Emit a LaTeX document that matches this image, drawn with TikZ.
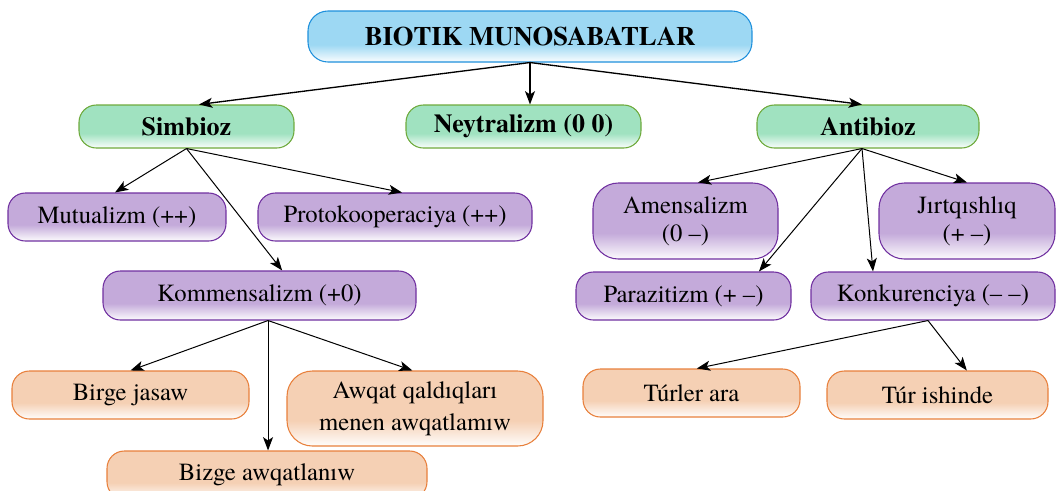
\documentclass[tikz,border=0pt]{standalone}
\usepackage{fontspec}
\setmainfont{TeX Gyre Termes}
\usetikzlibrary{arrows.meta}
\tikzset{>={Stealth[length=10pt,width=7.5pt,inset=2.5pt]}}

\definecolor{topfill}{HTML}{9DD8F3}
\definecolor{topline}{HTML}{1E90DC}
\definecolor{grfill}{HTML}{A0E2C0}
\definecolor{grline}{HTML}{6EAA3C}
\definecolor{pufill}{HTML}{C4AADA}
\definecolor{puline}{HTML}{7030A0}
\definecolor{orfill}{HTML}{F5D0B4}
\definecolor{orline}{HTML}{E8803C}
\colorlet{boxc}{white}
\colorlet{boxl}{white}
\pgfdeclareverticalshading[boxc,boxl]{fadedown}{100bp}{color(0bp)=(boxl); color(25bp)=(boxl); color(42bp)=(boxc); color(100bp)=(boxc)}

\begin{document}
\begin{tikzpicture}[
    x = 0.75pt, y = -0.75pt,
    ebox/.style 2 args = {draw=#2, line width=0.8pt, rounded corners=13pt,
        /utils/exec={\colorlet{boxc}{#1}\colorlet{boxl}{#1!4!white}},
        shading=fadedown, align=center, inner sep=0pt, text=black},
    topbox/.style = {ebox={topfill}{topline}, rounded corners=15pt,
        minimum width=333pt, minimum height=38.25pt,
        font=\fontsize{20}{24}\selectfont\bfseries},
    grbox/.style = {ebox={grfill}{grline}, minimum height=32.25pt,
        font=\fontsize{19.5}{23}\selectfont\bfseries},
    pubox/.style = {ebox={pufill}{puline}, minimum height=36pt,
        font=\fontsize{18.5}{21}\selectfont},
    orbox/.style = {ebox={orfill}{orline}, minimum height=36pt,
        font=\fontsize{18.5}{21}\selectfont},
    link/.style = {->, line width=0.75pt}
  ]
  \useasboundingbox (0,0) rectangle (1056,490);

  % levels
  \node[topbox] (biotik) at (530,36.5) {BIOTIK MUNOSABATLAR};

  \node[grbox, minimum width=161.25pt] (simbioz) at (186.5,126.5) {Simbioz};
  \node[grbox, minimum width=176.25pt] (neytral) at (523.5,126.5) {Neytralizm (0 0)};
  \node[grbox, minimum width=166.5pt] (antibioz) at (868,126.5) {Antibioz};

  \node[pubox, minimum width=163.5pt] (mutual) at (117,217) {Mutualizm (++)};
  \node[pubox, minimum width=205.5pt] (protok) at (395,217) {Protokooperaciya (++)};
  \node[pubox, minimum width=234.75pt, minimum height=36.75pt] (kommens) at (259.5,295.5) {Kommensalizm (+0)};

  \node[pubox, minimum width=138.75pt, minimum height=57pt, rounded corners=19pt] (amens) at (685.5,221) {Amensalizm\\(0 –)};
  \node[pubox, minimum width=132pt, minimum height=57pt, rounded corners=19pt] (jirtq) at (967,221) {Jırtqıshlıq\\(+ –)};
  \node[pubox, minimum width=161.25pt] (parazit) at (683.5,296) {Parazitizm (+ –)};
  \node[pubox, minimum width=183pt] (konkur) at (933,296) {Konkurenciya (– –)};

  \node[orbox, minimum width=177.75pt] (birge) at (130.5,395) {Birge jasaw};
  \node[orbox, minimum width=192pt, minimum height=56.25pt, rounded corners=19pt] (awqat) at (415,408.5) {Awqat qaldıqları\\[3pt]menen awqatlamıw};
  \node[orbox, minimum width=240pt] (bizge) at (267,475) {Bizge awqatlanıw};
  \node[orbox, minimum width=162.75pt] (turler) at (691.5,393) {Túrler ara};
  \node[orbox, minimum width=165.75pt] (turish) at (937.5,395) {Túr ishinde};

  % arrows
  \draw[link, line width=1pt] (biotik.south) -- ([xshift=9.4pt]simbioz.north);
  \draw[link, line width=1pt] (biotik.south) -- (biotik.south |- neytral.north);
  \draw[link, line width=1pt] (biotik.south) -- ([xshift=-4.5pt]antibioz.north);

  \draw[link] (simbioz.south) -- ([xshift=-1.5pt]mutual.north);
  \draw[link] (simbioz.south) -- ([xshift=5.25pt]protok.north);
  \draw[link] (simbioz.south) -- ([xshift=17pt]kommens.north);

  \coordinate (as) at ([xshift=-4.5pt]antibioz.south);
  \draw[link] (as) -- ([xshift=9.4pt]amens.north);
  \draw[link] (as) -- ([xshift=56.6pt]parazit.north);
  \draw[link] (as) -- ([xshift=-45pt]konkur.north);
  \draw[link] (as) -- (jirtq.north);

  \coordinate (ks) at ([xshift=6.4pt]kommens.south);
  \draw[link] (ks) -- (birge.north);
  \draw[link] (ks) -- (ks |- bizge.north);
  \draw[link] (ks) -- ([xshift=-2pt]awqat.north);

  \coordinate (cs) at ([xshift=-3.75pt]konkur.south);
  \draw[link] (cs) -- ([xshift=4pt]turler.north);
  \draw[link] (cs) -- ([xshift=22pt]turish.north);
\end{tikzpicture}
\end{document}
